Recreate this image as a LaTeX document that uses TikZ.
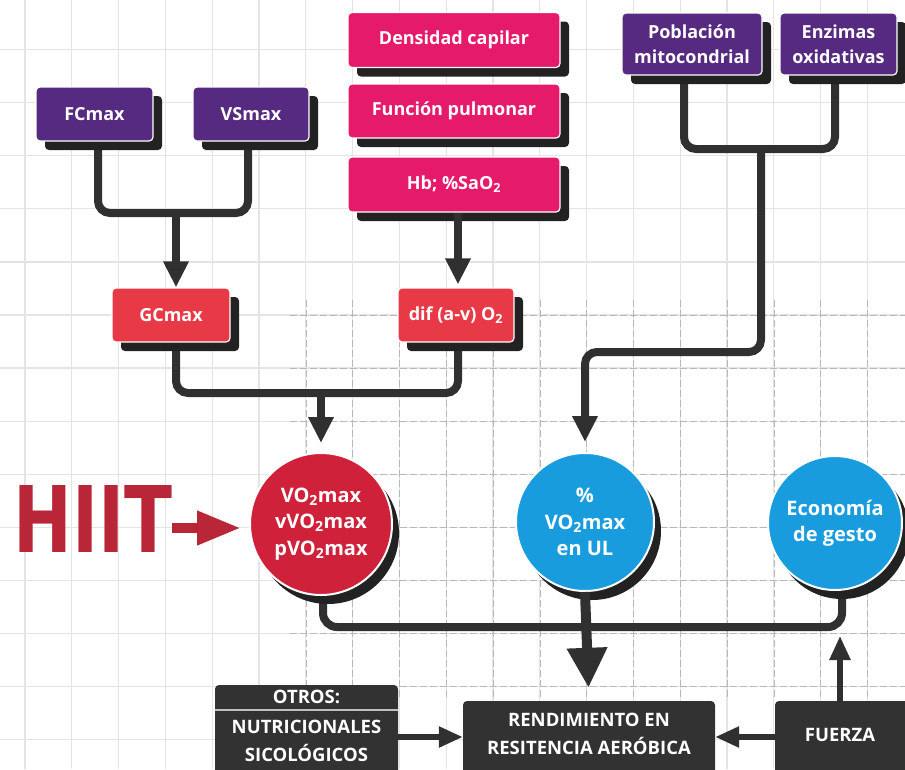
\documentclass[tikz,border=0pt]{standalone}
\usepackage{fontspec}
\setmainfont{Open Sans}
\newfontfamily\hiitfont{DejaVu Sans}
\usetikzlibrary{arrows.meta,shadows,calc}

\definecolor{purplebox}{RGB}{86,42,128}
\definecolor{pinkbox}{RGB}{230,26,106}
\definecolor{redbox}{RGB}{231,58,70}
\definecolor{redcirc}{RGB}{208,33,58}
\definecolor{bluecirc}{RGB}{24,156,222}
\definecolor{darkbox}{RGB}{50,50,50}
\definecolor{linec}{RGB}{48,48,48}
\definecolor{shadowc}{RGB}{34,34,34}
\definecolor{hiitred}{RGB}{184,38,56}
\definecolor{gridc}{RGB}{228,228,228}

\tikzset{
  gridline/.style={draw=gridc, line width=1.3pt},
  gridmark/.style={draw=black!28, line width=0.6pt, dash pattern=on 7pt off 3pt},
  box/.style={rectangle, rounded corners=4pt, draw=white, line width=1.2pt,
    text=white, align=center, inner sep=2pt,
    font=\bfseries\fontsize{18}{25}\selectfont,
    drop shadow={shadow xshift=9pt, shadow yshift=-9pt, fill=shadowc, opacity=1}},
  pbox/.style={box, fill=purplebox},
  kbox/.style={box, fill=pinkbox},
  rbox/.style={box, fill=redbox},
  circ/.style={circle, draw=white, line width=2pt, text=white, align=center,
    inner sep=0pt, font=\bfseries\fontsize{20}{26.5}\selectfont,
    drop shadow={shadow xshift=7pt, shadow yshift=-9pt, fill=shadowc, opacity=1}},
  dbox/.style={rectangle, rounded corners=4pt, fill=darkbox, inner sep=0pt},
  btext/.style={text=white, align=center, inner sep=0pt,
    font=\bfseries\fontsize{18.5}{28}\selectfont},
  link/.style={draw=linec, line width=8pt, rounded corners=12pt},
  arrowlink/.style={link, -{Triangle[width=24pt,length=26pt]}},
  smallarrow/.style={draw=linec, line width=5.5pt, -{Triangle[width=20pt,length=24pt]}},
  bigarrow/.style={draw=linec, line width=10pt, -{Triangle[width=38pt,length=40pt]}},
  hiitarrow/.style={draw=hiitred, line width=10pt, -{Triangle[width=32pt,length=44pt]}},
}

\begin{document}
\begin{tikzpicture}[x=1pt,y=-1pt]
\useasboundingbox (0,0) rectangle (905,769);
\fill[white] (0,0) rectangle (905,769);

% squared paper
\foreach \i in {0,...,19} \draw[gridline] ({25+46.8*\i},0) -- ({25+46.8*\i},769);
\foreach \j in {0,...,15} \draw[gridline] (0,{-3.6+53.1*\j}) -- (905,{-3.6+53.1*\j});
% darker dashed ruling in the middle of the sheet
\foreach \i in {6,...,19} \draw[gridmark] ({25+46.8*\i},300) -- ({25+46.8*\i},700);
\foreach \j in {6,...,13} \draw[gridmark] (290,{-3.6+53.1*\j}) -- (905,{-3.6+53.1*\j});

% junction points of the connectors
\coordinate (fcvs) at (176,213);
\coordinate (gd) at (321,393);
\coordinate (pe) at (761,149);
\coordinate (turn) at (585,352);
\coordinate (bar) at (585,627);
\coordinate (fzup) at (840,636);
\coordinate (mid) at (0,737);
\coordinate (dv) at (0,710);

% connectors (drawn first, the boxes sit on top)
\coordinate (fcstem) at (98,141);
\coordinate (vsstem) at (248,141);
\draw[link] (fcstem) |- (fcvs) -| (vsstem);
\coordinate (gcstem) at (176,343);
\coordinate (difstem) at (458,343);
\draw[link] (gcstem) |- (gd) -| (difstem);
\coordinate (pobstem) at (684,75);
\coordinate (enzstem) at (835,75);
\draw[link] (pobstem) |- (pe) -| (enzstem);
\coordinate (vostem) at (323,592);
\coordinate (ecostem) at (842,585);
\draw[link, rounded corners=14pt] (vostem) |- (bar) -| (ecostem);

% boxes
\node[pbox, minimum width=117pt, minimum height=54pt] (fc) at (94.5,114) {FCmax};
\node[pbox, minimum width=116pt, minimum height=54pt] (vs) at (251,114) {VSmax};
\node[kbox, minimum width=212pt, minimum height=55pt] (dens) at (454,40) {Densidad capilar};
\node[kbox, minimum width=212pt, minimum height=54pt] (func) at (454,111) {Función pulmonar};
\node[kbox, minimum width=212pt, minimum height=55pt] (hb) at (454,184.5) {Hb; \%SaO\textsubscript{2}};
\node[pbox, minimum width=140pt, minimum height=62pt] (pob) at (692,44) {Población\\mitocondrial};
\node[pbox, minimum width=117pt, minimum height=62pt] (enz) at (838.5,44) {Enzimas\\oxidativas};
\node[rbox, minimum width=118pt, minimum height=54pt] (gc) at (171,315) {GCmax};
\node[rbox, minimum width=116pt, minimum height=54pt] (dif) at (456,315) {dif (a-v) O\textsubscript{2}};

% circles
\node[circ, fill=redcirc, minimum size=142pt] (vo) at (321,524)
  {VO\textsubscript{2}max\\vVO\textsubscript{2}max\\pVO\textsubscript{2}max};
\node[circ, fill=bluecirc, minimum size=138pt] (ul) at (585,522)
  {\%\\VO\textsubscript{2}max\\en UL};
\node[circ, fill=bluecirc, minimum size=134pt] (eco) at (835,523)
  {Economía\\de gesto};

% bottom boxes
\node[dbox, minimum width=183pt, minimum height=95pt] (otros) at (306.5,732.5) {};
\draw[draw=black!25, line width=1.3pt] (otros.west |- dv) -- (otros.east |- dv);
\node[btext] (otrostit) at (306.5,697) {OTROS:};
\node[btext] (otroslist) at (306.5,741) {NUTRICIONALES\\SICOLÓGICOS};
\node[dbox, minimum width=252pt, minimum height=80pt] (rend) at (589,741) {};
\node[btext] (rendtxt) at (589,734) {RENDIMIENTO EN\\RESITENCIA AERÓBICA};
\node[dbox, minimum width=135pt, minimum height=80pt] (fz) at (842.5,741) {};
\node[btext] (fztxt) at (840,735) {FUERZA};

% arrows
\draw[arrowlink] (fcvs) -- (gc.north -| fcvs);
\draw[arrowlink, shorten >=3pt] (hb.south -| difstem) -- (dif.north -| difstem);
\draw[arrowlink, shorten >=9pt] (gd) -- (vo.north);
\draw[arrowlink, rounded corners=12pt, shorten >=10pt] (pe) |- (turn) -- (ul.north);
\draw[bigarrow, shorten >=13pt] (ul.south) -- (rend.north);
\draw[smallarrow] (fz.north -| fzup) -- (fzup);
\draw[smallarrow] (fz.west |- mid) -- (rend.east |- mid);
\draw[smallarrow] (otros.east |- mid) -- (rend.west |- mid);

% HIIT label
\node[inner sep=0pt, anchor=west, text=hiitred] (hiit) at (13,518.5)
  {\resizebox{159pt}{67pt}{\hiitfont\bfseries HIIT}};
\draw[hiitarrow, shorten >=8pt] (hiit.east |- 0,528) -- (vo.west |- 0,528);
\end{tikzpicture}
\end{document}
